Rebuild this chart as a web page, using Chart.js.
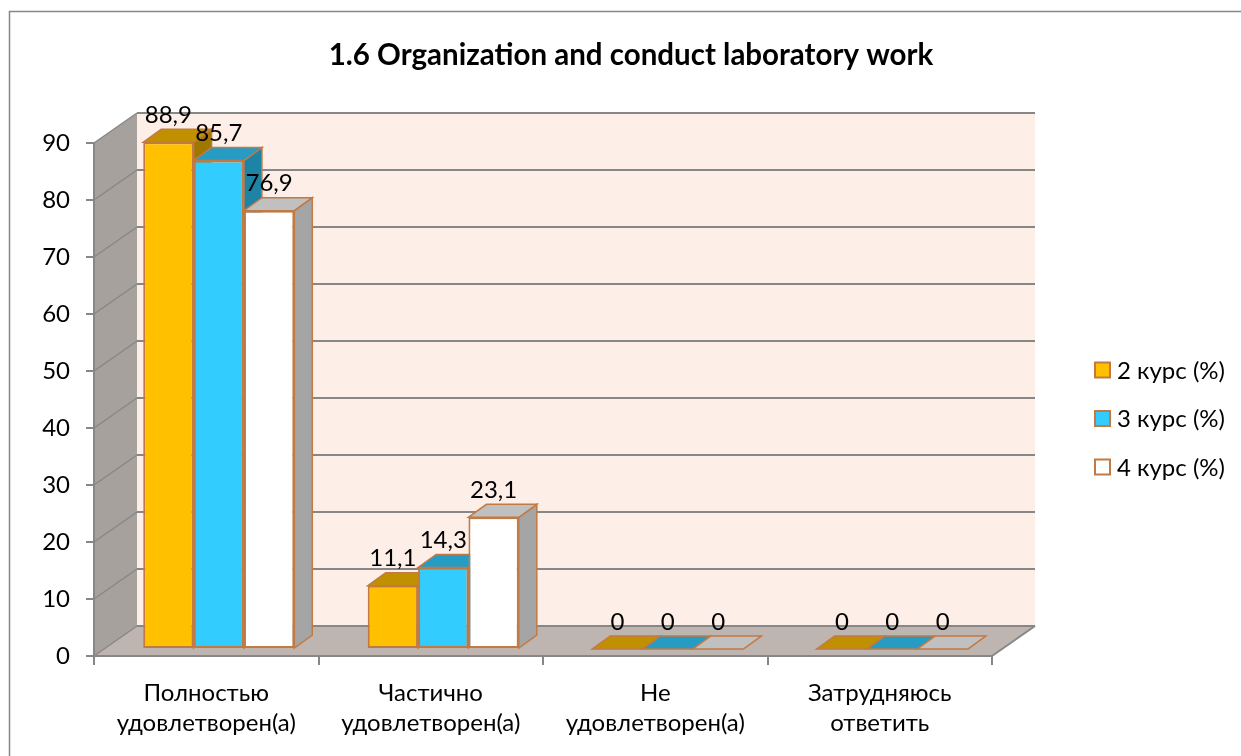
<!DOCTYPE html>
<html>
<head>
<meta charset="utf-8">
<script src="https://cdn.jsdelivr.net/npm/chart.js@4.4.1/dist/chart.umd.min.js"></script>
<style>
  html, body { margin: 0; padding: 0; background: #fff; }
  #wrap { width: 1241px; height: 756px; position: relative; }
</style>
</head>
<body>
<div id="wrap"><canvas id="chart" width="1241" height="756"></canvas></div>
<script>
// Data
const categories = [
  ["Полностью", "удовлетворен(а)"],
  ["Частично", "удовлетворен(а)"],
  ["Не", "удовлетворен(а)"],
  ["Затрудняюсь", "ответить"],
];
const seriesNames = ["2 курс (%)", "3 курс (%)", "4 курс (%)"];
const course2 = [88.9, 11.1, 0, 0];
const course3 = [85.7, 14.3, 0, 0];
const course4 = [76.9, 23.1, 0, 0];
const yTickValues = [0, 10, 20, 30, 40, 50, 60, 70, 80, 90];
const chartTitle = "1.6 Organization and conduct laboratory work";

const FONT = "Lato";
const BORDER = "#C27A45";
const GRID = "#878787";

// front / top / side colours for each series
const faces = [
  { front: "#FFC000", top: "#C09000", side: "#A07800" },
  { front: "#33CCFF", top: "#269CC4", side: "#1E84A6" },
  { front: "#FFFFFF", top: "#C0C0C0", side: "#A5A5A5" },
];

// oblique offsets of the fake 3D view
const WALL = { dx: 43, dy: -30 };
const FRONT = { dx: 12.5, dy: -7 };
const DEPTH = { dx: 18, dy: -13 };

function fmt(v) {
  return String(v).replace(".", ",");
}

function poly(ctx, pts, fill, stroke, lw) {
  ctx.beginPath();
  ctx.moveTo(pts[0][0], pts[0][1]);
  for (let i = 1; i < pts.length; i++) ctx.lineTo(pts[i][0], pts[i][1]);
  ctx.closePath();
  if (fill) { ctx.fillStyle = fill; ctx.fill(); }
  if (stroke) { ctx.strokeStyle = stroke; ctx.lineWidth = lw || 1; ctx.stroke(); }
}

function line(ctx, x0, y0, x1, y1, color, lw) {
  ctx.beginPath();
  ctx.moveTo(x0, y0);
  ctx.lineTo(x1, y1);
  ctx.strokeStyle = color;
  ctx.lineWidth = lw;
  ctx.stroke();
}

const threeD = {
  id: "threeD",
  beforeDraw(chart) {
    const { ctx, chartArea: a } = chart;
    const y = chart.scales.y;
    ctx.save();
    // outer frame (only left and top are in the picture)
    ctx.beginPath();
    ctx.moveTo(9.5, 760);
    ctx.lineTo(9.5, 11.5);
    ctx.lineTo(1245, 11.5);
    ctx.strokeStyle = "#878787";
    ctx.lineWidth = 1.5;
    ctx.stroke();

    const L = a.left, R = a.right, T = a.top, B = a.bottom;
    // back wall
    poly(ctx, [[L + WALL.dx, T + WALL.dy], [R + WALL.dx, T + WALL.dy], [R + WALL.dx, B + WALL.dy], [L + WALL.dx, B + WALL.dy]], "#FDEEE7");
    // left wall
    poly(ctx, [[L, T], [L + WALL.dx, T + WALL.dy], [L + WALL.dx, B + WALL.dy], [L, B]], "#A7A19E");
    // floor
    poly(ctx, [[L, B], [R, B], [R + WALL.dx, B + WALL.dy], [L + WALL.dx, B + WALL.dy]], "#BFB5B0");
    line(ctx, R, B, R + WALL.dx, B + WALL.dy, GRID, 2);

    yTickValues.forEach((v) => {
      const py = y.getPixelForValue(v);
      line(ctx, L, py, L + WALL.dx, py + WALL.dy, GRID, 1.5);
      line(ctx, L + WALL.dx, py + WALL.dy, R + WALL.dx, py + WALL.dy, GRID, 2);
    });
    ctx.restore();
  },
  beforeDatasetsDraw(chart) {
    const ctx = chart.ctx;
    ctx.save();
    ctx.translate(FRONT.dx, FRONT.dy);
    // draw series left to right so the painter's order is right
    chart.data.datasets.forEach((ds, i) => {
      const meta = chart.getDatasetMeta(i);
      meta.controller.draw();
      meta.data.forEach((bar) => {
        const { x, y, base, width } = bar.getProps(["x", "y", "base", "width"], true);
        const x0 = x - width / 2, x1 = x + width / 2;
        const top = Math.min(y, base);
        const f = faces[i];
        poly(ctx, [[x1, top], [x1 + DEPTH.dx, top + DEPTH.dy], [x1 + DEPTH.dx, base + DEPTH.dy], [x1, base]], f.side, BORDER, 1.5);
        poly(ctx, [[x0, top], [x1, top], [x1 + DEPTH.dx, top + DEPTH.dy], [x0 + DEPTH.dx, top + DEPTH.dy]], f.top, BORDER, 1.5);
      });
    });
    ctx.restore();
    return false;
  },
  afterDraw(chart) {
    const ctx = chart.ctx;
    ctx.save();
    ctx.fillStyle = "#000";
    ctx.textAlign = "center";
    ctx.textBaseline = "middle";
    ctx.font = `24px ${FONT}`;
    chart.data.datasets.forEach((ds, i) => {
      chart.getDatasetMeta(i).data.forEach((bar, j) => {
        const { x, y } = bar.getProps(["x", "y"], true);
        ctx.fillText(fmt(ds.data[j]), x + FRONT.dx, y + FRONT.dy - 27);
      });
    });

    // title
    ctx.font = `bold 29.5px ${FONT}`;
    ctx.fillText(chartTitle, 631, 55);

    // legend
    ctx.font = `24px ${FONT}`;
    ctx.textAlign = "left";
    seriesNames.forEach((name, i) => {
      const cy = 370 + i * 48.5;
      ctx.fillStyle = faces[i].front;
      ctx.fillRect(1095, cy - 7.5, 15, 15);
      ctx.strokeStyle = BORDER;
      ctx.lineWidth = 2;
      ctx.strokeRect(1095, cy - 7.5, 15, 15);
      ctx.fillStyle = "#000";
      ctx.fillText(name, 1117, cy + 1);
    });
    ctx.restore();
  },
};

const ctx = document.getElementById("chart");
const seriesData = [course2, course3, course4];

new Chart(ctx, {
  type: "bar",
  data: {
    labels: categories,
    datasets: seriesNames.map((name, i) => ({
      label: name,
      data: seriesData[i],
      backgroundColor: faces[i].front,
      borderColor: BORDER,
      borderWidth: 2,
      borderSkipped: false,
      clip: false,
    })),
  },
  options: {
    responsive: false,
    animation: false,
    devicePixelRatio: 1,
    layout: { padding: { left: 0, top: 143, right: 249, bottom: 0 } },
    datasets: { bar: { categoryPercentage: 0.673, barPercentage: 1 } },
    plugins: {
      legend: { display: false },
      title: { display: false },
      tooltip: { enabled: false },
    },
    scales: {
      x: {
        afterFit: (s) => { s.height = 100; },
        grid: { drawOnChartArea: false, offset: true, tickLength: 9, color: GRID, lineWidth: 2 },
        border: { color: GRID, width: 2 },
        ticks: { color: "#000", padding: 13, font: { family: FONT, size: 24, lineHeight: 1.25 } },
      },
      y: {
        min: 0,
        max: 90,
        afterFit: (s) => { s.width = 94; },
        afterBuildTicks: (s) => { s.ticks = yTickValues.map((v) => ({ value: v })); },
        grid: { drawOnChartArea: false, tickLength: 8, color: GRID, lineWidth: 2 },
        border: { color: GRID, width: 2 },
        ticks: { color: "#000", padding: 16, font: { family: FONT, size: 24 } },
      },
    },
  },
  plugins: [threeD],
});
</script>
</body>
</html>
